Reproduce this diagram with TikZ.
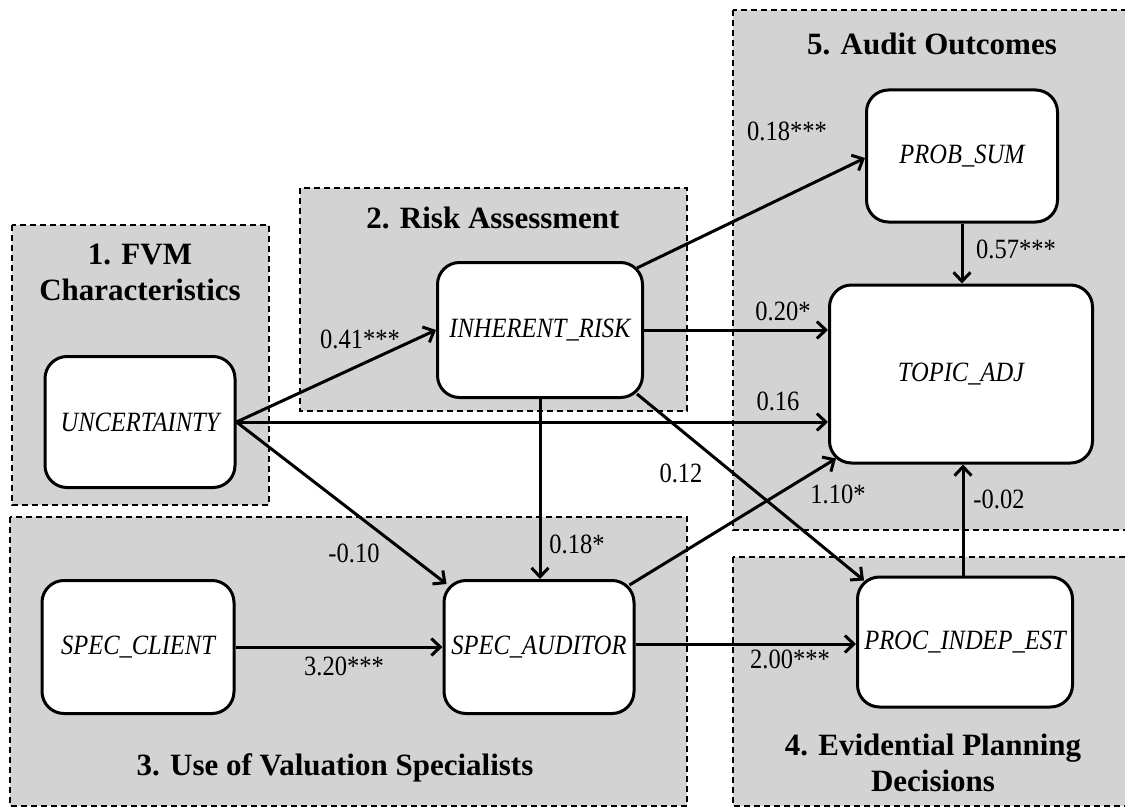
\documentclass[tikz,border=0pt]{standalone}
\usepackage{fontspec}
\usepackage{graphicx}
\setmainfont{Liberation Serif}
\usetikzlibrary{arrows.meta,calc}
\newcommand{\vst}[1]{\scalebox{1}[1.14]{#1}}
\tikzset{
  panel/.style={fill=panelgray, draw=black, line width=1.6pt, dash pattern=on 6pt off 4pt},
  var/.style={draw=black, fill=white, line width=3pt, rounded corners=22pt, inner sep=0pt,
    font=\fontsize{24.5}{28}\selectfont\itshape},
  lbl/.style={inner sep=0pt, font=\fontsize{24.5}{28}\selectfont},
  ttl/.style={inner sep=0pt, align=center, font=\fontsize{31}{36}\selectfont\bfseries},
  conn/.style={line width=3pt, -{Straight Barb[length=9pt,width=17pt,line width=3pt]}},
}
\definecolor{panelgray}{HTML}{D3D3D3}
\begin{document}
\begin{tikzpicture}[x=1pt,y=-1pt]
\useasboundingbox (0,0) rectangle (1125,808);
\clip (0,0) rectangle (1125,808);
% panels
\draw[panel] (12,225) rectangle (269,505);
\draw[panel] (300,188) rectangle (687,411);
\draw[panel] (10,517) rectangle (687,806);
\draw[panel] (733,557) rectangle (1140,806);
\draw[panel] (733,10) rectangle (1140,530);
% titles
\node[ttl] (t1) at (140,272) {1. FVM\\Characteristics};
\node[ttl] (t2) at (493,218) {2. Risk Assessment};
\node[ttl] (t3) at (335,768) {3. Use of Valuation Specialists};
\node[ttl] (t4) at (933,763) {4. Evidential Planning\\Decisions};
\node[ttl] (t5) at (932,44) {5. Audit Outcomes};
% variables
\node[var, minimum width=190pt, minimum height=131pt] (unc) at (140,422) {\vst{UNCERTAINTY}};
\node[var, minimum width=205pt, minimum height=135pt] (inh) at (540,330) {\vst{INHERENT\_RISK}};
\node[var, minimum width=191pt, minimum height=132pt] (prob) at (962,156) {\vst{PROB\_SUM}};
\node[var, minimum width=263pt, minimum height=178pt] (topic) at (961,374) {\vst{TOPIC\_ADJ}};
\node[var, minimum width=215pt, minimum height=130pt] (proc) at (965,642) {\vst{PROC\_INDEP\_EST}};
\node[var, minimum width=192pt, minimum height=133pt] (scl) at (138,647) {\vst{SPEC\_CLIENT}};
\node[var, minimum width=190pt, minimum height=133pt] (sau) at (539,647) {\vst{SPEC\_AUDITOR}};
% connectors
\draw[conn] (unc.east) -- (inh.west);
\draw[conn] (unc.east) -- (unc.east -| topic.west);
\draw[conn] (unc.east) -- ($(sau.north west)+(4,5)$);
\draw[conn] (inh.east) -- (inh.east -| topic.west);
\draw[conn] ($(inh.north east)+(-7,7)$) -- ($(prob.west)+(0,2)$);
\draw[conn] (inh.south) -- (inh.south |- sau.north);
\draw[conn] ($(inh.south east)+(-7,-5)$) -- ($(proc.north west)+(8,5)$);
\draw[conn] ($(sau.north east)+(-6,6)$) -- ($(topic.south west)+(8,-6)$);
\draw[conn] ($(sau.east)+(0,-3)$) -- ($(sau.east -| proc.west)+(0,-3)$);
\draw[conn] (scl.east) -- (sau.west);
\draw[conn] (prob.south) -- (prob.south |- topic.north);
\draw[conn] ($(proc.north)+(-2,0)$) -- ($(proc.north |- topic.south)+(-2,0)$);
% coefficients
\node[lbl] (c1) at (360,339) {\vst{0.41***}};
\node[lbl] (c2) at (787,131) {\vst{0.18***}};
\node[lbl] (c3) at (1016,249) {\vst{0.57***}};
\node[lbl] (c4) at (783,311) {\vst{0.20*}};
\node[lbl] (c5) at (778,401) {\vst{0.16}};
\node[lbl] (c6) at (838,494) {\vst{1.10*}};
\node[lbl] (c7) at (999,499) {\vst{-0.02}};
\node[lbl] (c8) at (790,659) {\vst{2.00***}};
\node[lbl] (c9) at (681,473) {\vst{0.12}};
\node[lbl] (c10) at (577,544) {\vst{0.18*}};
\node[lbl] (c11) at (354,553) {\vst{-0.10}};
\node[lbl] (c12) at (344,666) {\vst{3.20***}};
\end{tikzpicture}
\end{document}
